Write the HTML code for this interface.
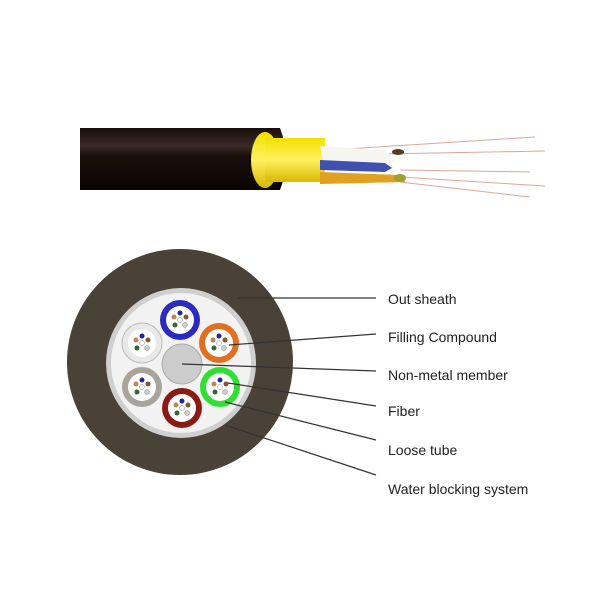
<!DOCTYPE html>
<html><head><style>
body{margin:0;background:#fff;width:600px;height:600px;overflow:hidden}
text{font-family:"Liberation Sans",sans-serif;font-size:14px;fill:#222}
</style></head><body>
<svg width="600" height="600" viewBox="0 0 600 600">
<defs>
<linearGradient id="blk" x1="0" y1="0" x2="0" y2="1">
<stop offset="0" stop-color="#1a0e0a"/><stop offset="0.3" stop-color="#3a2a28"/><stop offset="0.45" stop-color="#1a0e0a"/><stop offset="1" stop-color="#0a0404"/></linearGradient>
<linearGradient id="yel" x1="0" y1="0" x2="0" y2="1">
<stop offset="0" stop-color="#f4e000"/><stop offset="0.5" stop-color="#fff060"/><stop offset="1" stop-color="#d8b800"/></linearGradient>
</defs>
<!-- top cable -->
<g stroke="#d9a89a" stroke-width="1">
<line x1="330" y1="150" x2="535" y2="137"/>
<line x1="330" y1="155" x2="545" y2="151"/>
<line x1="400" y1="170" x2="530" y2="172"/>
<line x1="400" y1="177" x2="545" y2="186"/>
<line x1="400" y1="182" x2="530" y2="197"/>
</g>
<path d="M80 128 H280 Q292 159 280 190 H80 Z" fill="url(#blk)"/>
<ellipse cx="265" cy="160" rx="14" ry="28" fill="url(#yel)"/>
<rect x="265" y="138" width="60" height="44" fill="url(#yel)"/>
<path d="M320 146 L385 150 L395 160 L385 170 L325 170 Z" fill="#f6f6f0"/>
<path d="M320 160 L385 163 L392 168 L385 172 L320 170 Z" fill="#4050b0"/>
<path d="M320 172 L400 175 L405 182 L320 184 Z" fill="#e0a020"/>
<ellipse cx="400" cy="178" rx="6" ry="4" fill="#a0a030"/>
<ellipse cx="398" cy="152" rx="6" ry="3" fill="#5a3a20"/>
<!-- cross section -->
<circle cx="180" cy="362" r="113" fill="#4a4237"/>
<circle cx="181" cy="363" r="75" fill="#cfcfcf"/>
<circle cx="181" cy="363" r="70" fill="#f2f2f2"/>
<circle cx="182" cy="364" r="20" fill="#cccccc" stroke="#aaa"/>
<g id="tubes">
<g transform="translate(180,320)"><circle r="20" fill="#2a2ac0"/><circle r="14" fill="#fff"/></g>
<g transform="translate(219,343)"><circle r="20" fill="#e07020"/><circle r="14" fill="#fff"/></g>
<g transform="translate(220,387)"><circle r="20" fill="#30e030"/><circle r="14" fill="#fff"/></g>
<g transform="translate(182,408)"><circle r="20" fill="#8a1a12"/><circle r="14" fill="#fff"/></g>
<g transform="translate(142,387)"><circle r="20" fill="#a8a49c"/><circle r="14" fill="#fff"/></g>
<g transform="translate(142,343)"><circle r="20" fill="#e8e8e8" stroke="#bbb"/><circle r="14" fill="#fff"/></g>
</g>
<g>
<script>/* none */</script>
</g>
<g id="fibers"></g>
<!-- fibers drawn per tube -->
<g>
<g transform="translate(180,320)"><circle cx="0" cy="-7" r="2.5" fill="#22a"/><circle cx="-6" cy="-3" r="2.5" fill="#b85"/><circle cx="6" cy="-3" r="2.5" fill="#853"/><circle cx="-5" cy="5" r="2.5" fill="#363"/><circle cx="5" cy="5" r="2.5" fill="#ccc" stroke="#888" stroke-width=".5"/><circle r="2.5" fill="#fff" stroke="#888" stroke-width=".5"/></g>
<g transform="translate(219,343)"><circle cx="0" cy="-7" r="2.5" fill="#22a"/><circle cx="-6" cy="-3" r="2.5" fill="#b85"/><circle cx="6" cy="-3" r="2.5" fill="#853"/><circle cx="-5" cy="5" r="2.5" fill="#363"/><circle cx="5" cy="5" r="2.5" fill="#ccc" stroke="#888" stroke-width=".5"/><circle r="2.5" fill="#fff" stroke="#888" stroke-width=".5"/></g>
<g transform="translate(220,387)"><circle cx="0" cy="-7" r="2.5" fill="#22a"/><circle cx="-6" cy="-3" r="2.5" fill="#b85"/><circle cx="6" cy="-3" r="2.5" fill="#853"/><circle cx="-5" cy="5" r="2.5" fill="#363"/><circle cx="5" cy="5" r="2.5" fill="#ccc" stroke="#888" stroke-width=".5"/><circle r="2.5" fill="#fff" stroke="#888" stroke-width=".5"/></g>
<g transform="translate(182,408)"><circle cx="0" cy="-7" r="2.5" fill="#22a"/><circle cx="-6" cy="-3" r="2.5" fill="#b85"/><circle cx="6" cy="-3" r="2.5" fill="#853"/><circle cx="-5" cy="5" r="2.5" fill="#363"/><circle cx="5" cy="5" r="2.5" fill="#ccc" stroke="#888" stroke-width=".5"/><circle r="2.5" fill="#fff" stroke="#888" stroke-width=".5"/></g>
<g transform="translate(142,387)"><circle cx="0" cy="-7" r="2.5" fill="#22a"/><circle cx="-6" cy="-3" r="2.5" fill="#b85"/><circle cx="6" cy="-3" r="2.5" fill="#853"/><circle cx="-5" cy="5" r="2.5" fill="#363"/><circle cx="5" cy="5" r="2.5" fill="#ccc" stroke="#888" stroke-width=".5"/><circle r="2.5" fill="#fff" stroke="#888" stroke-width=".5"/></g>
<g transform="translate(142,343)"><circle cx="0" cy="-7" r="2.5" fill="#22a"/><circle cx="-6" cy="-3" r="2.5" fill="#b85"/><circle cx="6" cy="-3" r="2.5" fill="#853"/><circle cx="-5" cy="5" r="2.5" fill="#363"/><circle cx="5" cy="5" r="2.5" fill="#ccc" stroke="#888" stroke-width=".5"/><circle r="2.5" fill="#fff" stroke="#888" stroke-width=".5"/></g>
</g>
<!-- leader lines -->
<g stroke="#333" stroke-width="1.2" fill="none">
<line x1="238" y1="298" x2="376" y2="298"/>
<line x1="229" y1="345" x2="376" y2="334"/>
<line x1="182" y1="364" x2="376" y2="371"/>
<line x1="228" y1="383" x2="376" y2="406"/>
<line x1="225" y1="402" x2="376" y2="440"/>
<line x1="225" y1="425" x2="376" y2="475"/>
</g>
<text x="388" y="304">Out sheath</text>
<text x="388" y="342">Filling Compound</text>
<text x="388" y="380">Non-metal member</text>
<text x="388" y="416">Fiber</text>
<text x="388" y="455">Loose tube</text>
<text x="388" y="494">Water blocking system</text>
</svg>
</body></html>
